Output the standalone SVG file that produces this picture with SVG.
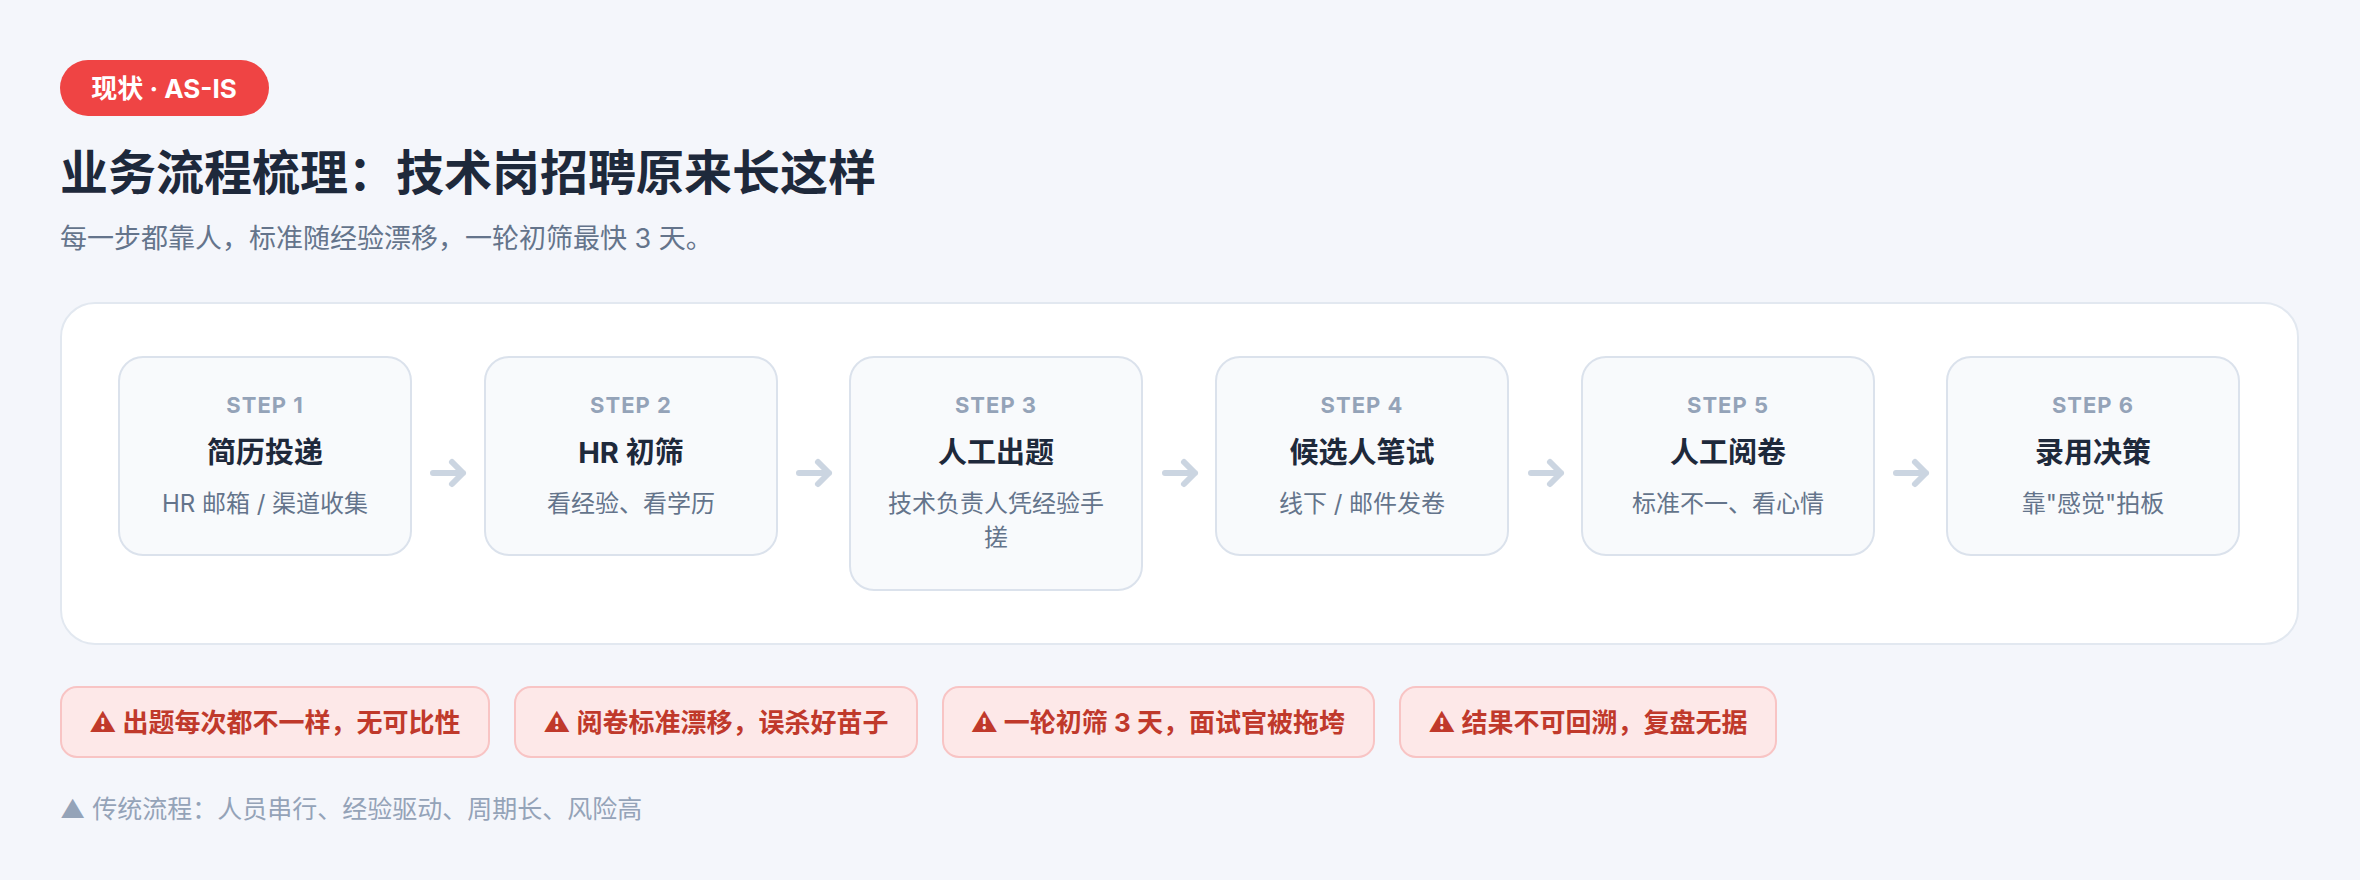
<svg xmlns="http://www.w3.org/2000/svg" width="2360" height="880" viewBox="0 0 2360 880">
<style>
text{font-family:"Inter","Noto Sans CJK SC",sans-serif}
.box{fill:#f8fafc;stroke:#dbe2ec;stroke-width:2}
.sl{font-size:22px;font-weight:700;fill:#94a3b8;text-anchor:middle;letter-spacing:1px}
.st{font-size:29px;font-weight:700;fill:#1e293b;text-anchor:middle}
.sd{font-size:24px;fill:#64748b;text-anchor:middle}
.warn{fill:#fde8e8;stroke:#f8c4c4;stroke-width:2}
.wt{font-size:26px;font-weight:700;fill:#c0392b;text-anchor:middle}
.arr{stroke:#cbd5e1;stroke-width:6;fill:none;stroke-linecap:round;stroke-linejoin:round}
</style>
<rect width="2360" height="880" fill="#f4f6fb"/>
<rect x="60" y="60" width="209" height="56" rx="28" fill="#ef4444"/>
<text x="164" y="98" font-size="26" font-weight="700" fill="#fff" text-anchor="middle">现状 · AS-IS</text>
<text x="60" y="190" font-size="48" font-weight="700" fill="#1e293b">业务流程梳理：技术岗招聘原来长这样</text>
<text x="60" y="248" font-size="27" fill="#64748b">每一步都靠人，标准随经验漂移，一轮初筛最快 3 天。</text>
<rect x="61" y="303" width="2237" height="341" rx="34" fill="#fff" stroke="#e2e8f0" stroke-width="2"/>
<g id="step1"><rect class="box" x="119" y="357" width="292" height="198" rx="24"/><text class="sl" x="265" y="413">STEP 1</text><text class="st" x="265" y="463">简历投递</text><text class="sd" x="265" y="512">HR 邮箱 / 渠道收集</text></g>
<g id="step2"><rect class="box" x="485" y="357" width="292" height="198" rx="24"/><text class="sl" x="631" y="413">STEP 2</text><text class="st" x="631" y="463">HR 初筛</text><text class="sd" x="631" y="512">看经验、看学历</text></g>
<g id="step3"><rect class="box" x="850" y="357" width="292" height="233" rx="24"/><text class="sl" x="996" y="413">STEP 3</text><text class="st" x="996" y="463">人工出题</text><text class="sd" x="996" y="512">技术负责人凭经验手</text><text class="sd" x="996" y="546">搓</text></g>
<g id="step4"><rect class="box" x="1216" y="357" width="292" height="198" rx="24"/><text class="sl" x="1362" y="413">STEP 4</text><text class="st" x="1362" y="463">候选人笔试</text><text class="sd" x="1362" y="512">线下 / 邮件发卷</text></g>
<g id="step5"><rect class="box" x="1582" y="357" width="292" height="198" rx="24"/><text class="sl" x="1728" y="413">STEP 5</text><text class="st" x="1728" y="463">人工阅卷</text><text class="sd" x="1728" y="512">标准不一、看心情</text></g>
<g id="step6"><rect class="box" x="1947" y="357" width="292" height="198" rx="24"/><text class="sl" x="2093" y="413">STEP 6</text><text class="st" x="2093" y="463">录用决策</text><text class="sd" x="2093" y="512">靠"感觉"拍板</text></g>
<g id="connectors">
<path class="arr" d="M433 473H463M452 462L463 473L452 484"/>
<path class="arr" d="M799 473H829M818 462L829 473L818 484"/>
<path class="arr" d="M1165 473H1195M1184 462L1195 473L1184 484"/>
<path class="arr" d="M1531 473H1561M1550 462L1561 473L1550 484"/>
<path class="arr" d="M1896 473H1926M1915 462L1926 473L1915 484"/>
</g>
<g id="w1"><rect class="warn" x="61" y="687" width="428" height="70" rx="16"/><text class="wt" x="275" y="732">⚠ 出题每次都不一样，无可比性</text></g>
<g id="w2"><rect class="warn" x="515" y="687" width="402" height="70" rx="16"/><text class="wt" x="716" y="732">⚠ 阅卷标准漂移，误杀好苗子</text></g>
<g id="w3"><rect class="warn" x="943" y="687" width="431" height="70" rx="16"/><text class="wt" x="1158" y="732">⚠ 一轮初筛 3 天，面试官被拖垮</text></g>
<g id="w4"><rect class="warn" x="1400" y="687" width="376" height="70" rx="16"/><text class="wt" x="1588" y="732">⚠ 结果不可回溯，复盘无据</text></g>
<text x="60" y="818" font-size="25" fill="#94a3b8">▲ 传统流程：人员串行、经验驱动、周期长、风险高</text>
</svg>
